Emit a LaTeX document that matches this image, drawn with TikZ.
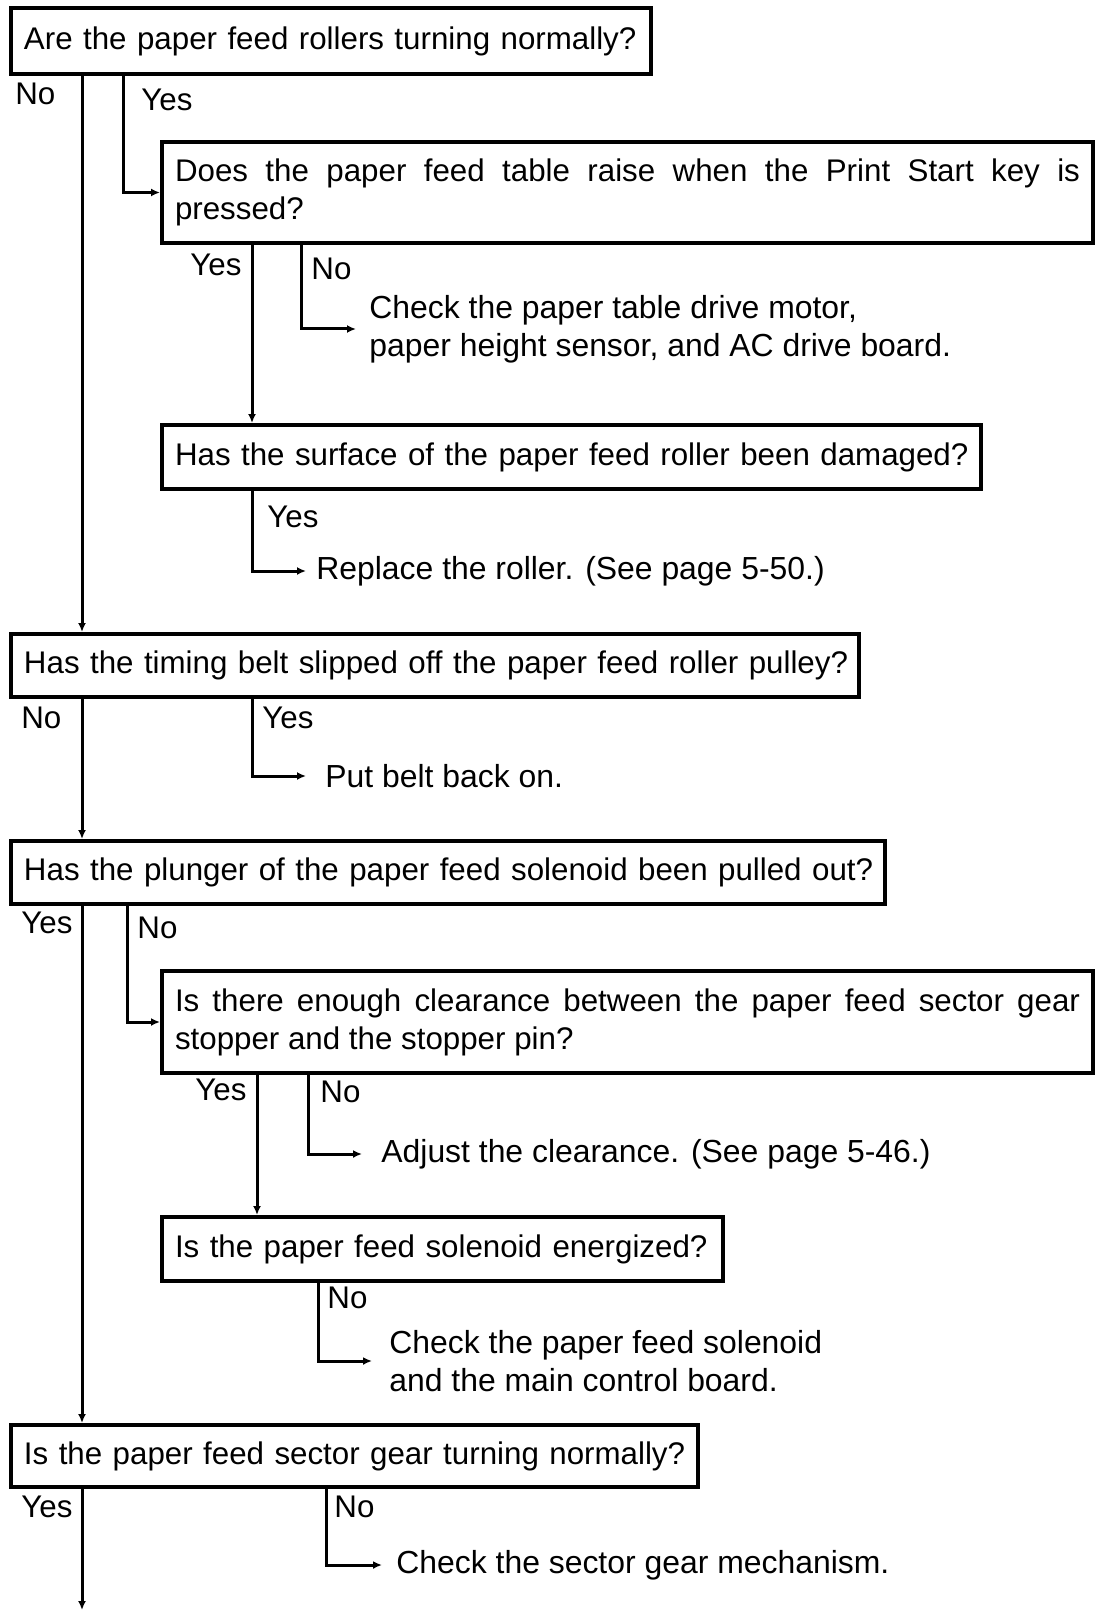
\documentclass[tikz,border=0pt]{standalone}
\usepackage{fontspec}
\setmainfont{Liberation Sans}
\usetikzlibrary{arrows.meta}
\begin{document}
\begin{tikzpicture}[x=0.5pt,y=-0.5pt,
  font=\fontsize{15.65pt}{19pt}\selectfont,
  box/.style={draw, line width=2pt, anchor=north west, inner xsep=6.5pt, inner ysep=0pt, align=left},
  jbox/.style={box, align=justify},
  res/.style={anchor=west, inner ysep=0pt, align=left, font=\fontsize{15.95pt}{19pt}\selectfont},
  lbl/.style={anchor=base west, inner sep=0pt},
  arr/.style={line width=1.5pt, -{Latex[length=4.5pt,width=4pt]}},
  ]
\useasboundingbox (0,0) rectangle (1100,1610);

% boxes
\node[box, text width=307pt, minimum height=33pt] (b1) at (9,6)
  {\mbox{Are the paper feed rollers turning normally?}};
\node[jbox, text width=452.5pt, minimum height=50.5pt] (b2) at (160,140)
  {Does the paper feed table raise when the Print Start key is\linebreak pressed?};
\node[box, text width=396.5pt, minimum height=32pt] (b3) at (160,423)
  {\mbox{Has the surface of the paper feed roller been damaged?}};
\node[box, text width=411pt, minimum height=31.5pt] (b4) at (9,632)
  {\mbox{Has the timing belt slipped off the paper feed roller pulley?}};
\node[box, text width=424pt, minimum height=31.5pt] (b5) at (9,839)
  {\mbox{Has the plunger of the paper feed solenoid been pulled out?}};
\node[jbox, text width=452.5pt, minimum height=51pt] (b6) at (160,969)
  {Is there enough clearance between the paper feed sector gear\linebreak stopper and the stopper pin?};
\node[box, text width=267.5pt, minimum height=32pt] (b7) at (160,1215)
  {\mbox{Is the paper feed solenoid energized?}};
\node[box, text width=330.5pt, minimum height=31pt] (b8) at (9,1423)
  {\mbox{Is the paper feed sector gear turning normally?}};

% results
\node[res, inner xsep=6.5pt] (r1) at (356,329)
  {Check the paper table drive motor,\\paper height sensor, and AC drive board.};
\node[res, inner xsep=5pt] (r2) at (306,571) {Replace the roller. (See page 5-50.)};
\node[res, inner xsep=9.5pt] (r3) at (306,776) {Put belt back on.};
\node[res, inner xsep=9.5pt] (r4) at (362,1154) {Adjust the clearance. (See page 5-46.)};
\node[res, inner xsep=8.5pt] (r5) at (372,1361)
  {Check the paper feed solenoid\\and the main control board.};
\node[res, inner xsep=7pt] (r6) at (382,1565) {Check the sector gear mechanism.};

% labels
\node[lbl] (l1n) at (15,105) {No};
\node[lbl] (l1y) at (141,111) {Yes};
\node[lbl] (l2y) at (190,276) {Yes};
\node[lbl] (l2n) at (311,280) {No};
\node[lbl] (l3y) at (267,527) {Yes};
\node[lbl] (l4n) at (21,728) {No};
\node[lbl] (l4y) at (262,728) {Yes};
\node[lbl] (l5y) at (21,933) {Yes};
\node[lbl] (l5n) at (137,938) {No};
\node[lbl] (l6y) at (195,1100) {Yes};
\node[lbl] (l6n) at (320,1102) {No};
\node[lbl] (l7n) at (327,1308) {No};
\node[lbl] (l8y) at (21,1517) {Yes};
\node[lbl] (l8n) at (334,1517) {No};

% column coordinates
\coordinate (cM) at (82,0);
\coordinate (c1y) at (123,0);
\coordinate (c2y) at (252,0);
\coordinate (c2n) at (301,0);
\coordinate (c5n) at (127,0);
\coordinate (c6y) at (257,0);
\coordinate (c6n) at (308,0);
\coordinate (c7n) at (318,0);
\coordinate (c8n) at (326,0);
\coordinate (end) at (82,1610);

% connectors
\draw[arr] (b1.south -| cM) -- (b4.north -| cM);
\draw[arr] (b1.south -| c1y) |- (b2.west);
\draw[arr] (b2.south -| c2y) -- (b3.north -| c2y);
\draw[arr] (b2.south -| c2n) |- (r1.west);
\draw[arr] (b3.south -| c2y) |- (r2.west);
\draw[arr] (b4.south -| cM) -- (b5.north -| cM);
\draw[arr] (b4.south -| c2y) |- (r3.west);
\draw[arr] (b5.south -| cM) -- (b8.north -| cM);
\draw[arr] (b5.south -| c5n) |- (b6.west);
\draw[arr] (b6.south -| c6y) -- (b7.north -| c6y);
\draw[arr] (b6.south -| c6n) |- (r4.west);
\draw[arr] (b7.south -| c7n) |- (r5.west);
\draw[arr] (b8.south -| cM) -- (end);
\draw[arr] (b8.south -| c8n) |- (r6.west);
\end{tikzpicture}
\end{document}
